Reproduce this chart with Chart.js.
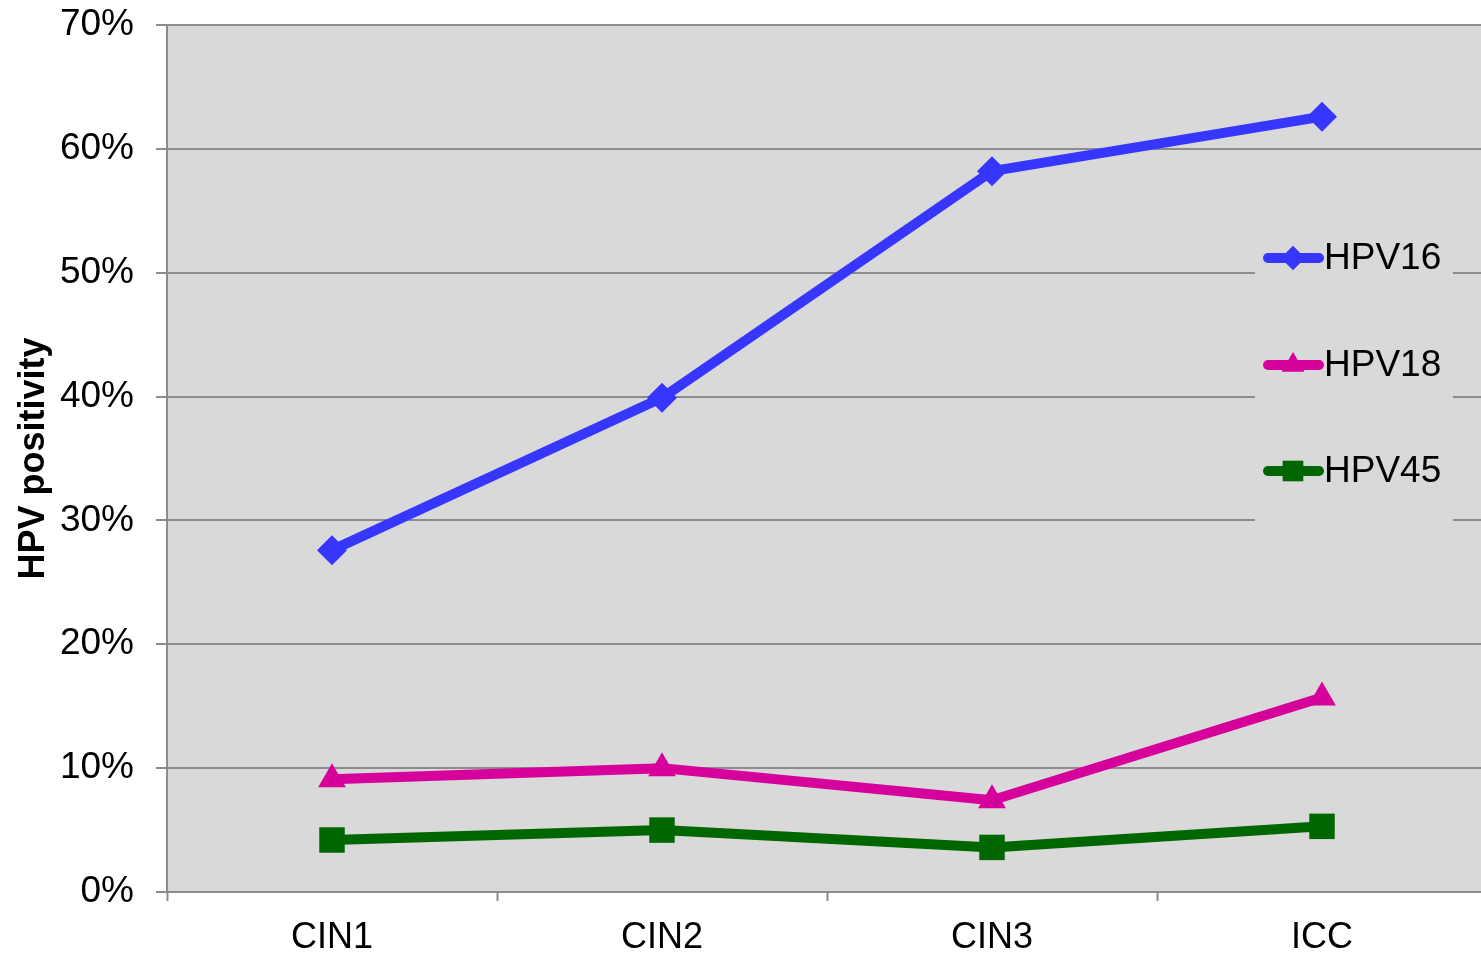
<!DOCTYPE html>
<html lang="en">
<head>
    <meta charset="UTF-8">
    <title>HPV positivity by lesion grade</title>
    <script src="https://cdn.jsdelivr.net/npm/chart.js"></script>
    <style>
        html, body {
            margin: 0;
            padding: 0;
            background: #ffffff;
            overflow: hidden;
        }
        #hpvChart {
            display: block;
        }
    </style>
</head>
<body>
    <canvas id="hpvChart" width="1500" height="955"></canvas>

    <script>
        // Lesion grades along the x axis
        const grades = ['CIN1', 'CIN2', 'CIN3', 'ICC'];

        // Positivity per genotype, in percent
        const hpv16 = [27.6, 39.9, 58.2, 62.6];
        const hpv18 = [9.1, 10.0, 7.4, 15.7];
        const hpv45 = [4.2, 5.0, 3.6, 5.3];

        const seriesNames = ['HPV16', 'HPV18', 'HPV45'];
        const seriesColors = ['#3636ff', '#d6009a', '#006600'];
        const markerStyles = ['rectRot', 'triangle', 'rect'];
        const markerSizes = [15, 16, 18];

        const FONT = '"Liberation Sans", Arial, sans-serif';
        const GRID = '#8c8c8c';
        const PLOT_BG = '#d9d9d9';

        // Grey fill behind the plot area
        const plotBackground = {
            id: 'plotBackground',
            beforeDraw(chart) {
                const { ctx, chartArea: a } = chart;
                ctx.save();
                ctx.fillStyle = PLOT_BG;
                ctx.fillRect(a.left, a.top, a.right - a.left, a.bottom - a.top);
                ctx.restore();
            }
        };

        // Legend sitting inside the plot, on its own grey patch
        const insideLegend = {
            id: 'insideLegend',
            afterDraw(chart) {
                const ctx = chart.ctx;
                const boxX = 1255, boxY = 232, boxW = 198, boxH = 296;
                ctx.save();
                ctx.fillStyle = PLOT_BG;
                ctx.fillRect(boxX, boxY, boxW, boxH);

                const rows = [258, 365, 471];
                chart.data.datasets.forEach((ds, i) => {
                    const y = rows[i];
                    ctx.strokeStyle = ds.borderColor;
                    ctx.lineWidth = ds.borderWidth;
                    ctx.lineCap = 'round';
                    ctx.beginPath();
                    ctx.moveTo(1268, y);
                    ctx.lineTo(1319, y);
                    ctx.stroke();

                    ctx.fillStyle = ds.borderColor;
                    ctx.beginPath();
                    Chart.helpers.drawPoint(ctx, {
                        pointStyle: ds.pointStyle,
                        radius: ds.pointRadius * 0.8,
                        rotation: 0,
                        borderWidth: 0
                    }, 1293, y);
                    ctx.fill();

                    ctx.fillStyle = '#000000';
                    ctx.font = '37px ' + FONT;
                    ctx.textBaseline = 'middle';
                    ctx.textAlign = 'left';
                    ctx.fillText(ds.label, 1324, y + 1);
                });
                ctx.restore();
            }
        };

        const ctx = document.getElementById('hpvChart').getContext('2d');

        const seriesData = [hpv16, hpv18, hpv45];
        const datasets = seriesData.map((values, i) => ({
            label: seriesNames[i],
            data: values,
            borderColor: seriesColors[i],
            backgroundColor: seriesColors[i],
            borderWidth: 10,
            pointStyle: markerStyles[i],
            pointRadius: markerSizes[i],
            pointHoverRadius: markerSizes[i],
            pointBorderWidth: 0,
            tension: 0,
            borderJoinStyle: 'round',
            borderCapStyle: 'round'
        }));

        new Chart(ctx, {
            type: 'line',
            data: { labels: grades, datasets: datasets },
            options: {
                responsive: false,
                animation: false,
                devicePixelRatio: 1,
                layout: {
                    autoPadding: false,
                    padding: { top: 25, right: 13, left: 0, bottom: 0 }
                },
                plugins: {
                    legend: { display: false },
                    tooltip: { enabled: false }
                },
                scales: {
                    x: {
                        offset: true,
                        grid: {
                            offset: true,
                            drawOnChartArea: false,
                            drawTicks: true,
                            tickLength: 9,
                            tickWidth: 2,
                            tickColor: GRID
                        },
                        border: { color: GRID, width: 2 },
                        ticks: {
                            color: '#000000',
                            font: { family: FONT, size: 36 },
                            padding: 15,
                            maxRotation: 0
                        },
                        afterFit(scale) {
                            scale.height = 63;
                            scale.paddingLeft = 0;
                            scale.paddingRight = 0;
                        }
                    },
                    y: {
                        min: 0,
                        max: 70,
                        grid: {
                            color: GRID,
                            lineWidth: 2,
                            tickLength: 11,
                            tickColor: GRID
                        },
                        border: { color: GRID, width: 2 },
                        ticks: {
                            stepSize: 10,
                            color: '#000000',
                            font: { family: FONT, size: 37 },
                            padding: 22,
                            callback: v => v + '%'
                        },
                        title: {
                            display: true,
                            text: 'HPV positivity',
                            color: '#000000',
                            font: { family: FONT, size: 36, weight: 'bold' },
                            padding: { top: 12, bottom: 0 }
                        },
                        afterFit(scale) {
                            scale.width = 167;
                            scale.paddingTop = 0;
                            scale.paddingBottom = 0;
                        }
                    }
                }
            },
            plugins: [plotBackground, insideLegend]
        });
    </script>
</body>
</html>
